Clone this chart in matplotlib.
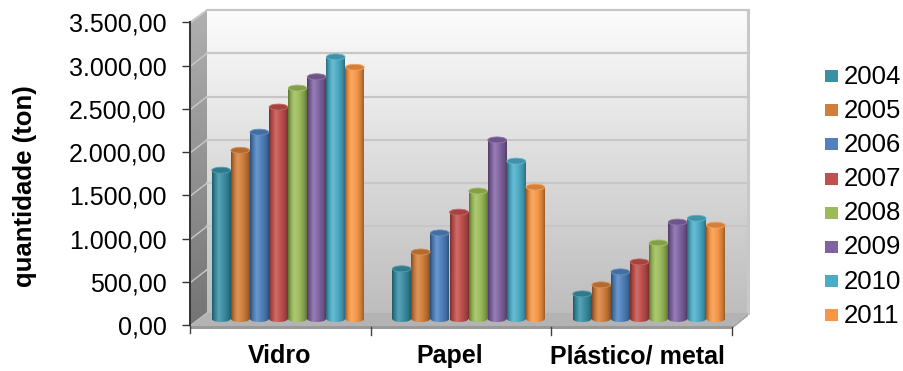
import numpy as np
import matplotlib
matplotlib.use("Agg")
import matplotlib.pyplot as plt
from matplotlib.patches import Polygon, Rectangle, Ellipse
from matplotlib.colors import to_rgb

plt.rcParams['font.family'] = ['Liberation Sans', 'DejaVu Sans']

# ---- data -------------------------------------------------------------
categories = ["Vidro", "Papel", "Plástico/ metal"]
years = ["2004", "2005", "2006", "2007", "2008", "2009", "2010", "2011"]
vidro = [1720, 1950, 2160, 2450, 2670, 2800, 3030, 2910]
papel = [580, 775, 995, 1235, 1480, 2070, 1825, 1525]
plastico_metal = [290, 395, 545, 660, 880, 1120, 1165, 1085]
year_colors = ["#3A8FA3", "#D27E3A", "#4F81BD", "#C0504D",
               "#9BBB59", "#8064A2", "#4BACC6", "#F79646"]
y_ticks = [0, 500, 1000, 1500, 2000, 2500, 3000, 3500]
y_label = "quantidade (ton)"

values = np.array([vidro, papel, plastico_metal], dtype=float)  # (category, year)

# ---- figure / helpers ---------------------------------------------------
W, H = 904, 371
fig = plt.figure(figsize=(W / 100, H / 100), dpi=100)


def fx(px):
    return px / W


def fy(py):
    return 1 - py / H


def mix(c, f):
    """f>0 lightens toward white, f<0 darkens toward black."""
    c = np.array(to_rgb(c))
    if f >= 0:
        return c + (1 - c) * f
    return c * (1 + f)


# background layer in pixel units (walls, floor, legend)
bg = fig.add_axes([0, 0, 1, 1], zorder=0)
bg.axis('off')

S_FRONT = 0.0865          # px per unit on the front axis
S_BACK = (313 - 10) / 3500.0

# back wall with vertical gradient
n = 256
tv = np.linspace(0, 1, n)
top_c, bot_c = np.array(to_rgb("#FCFCFC")), np.array(to_rgb("#BDBDBD"))
wall = (top_c[None, :] * (1 - tv[:, None]) + bot_c[None, :] * tv[:, None])[:, None, :]
bg.imshow(wall, extent=(207, 748, 313, 10), aspect='auto', interpolation='bilinear', zorder=1)

# left side wall
side_poly = Polygon([(190, 22), (207, 10), (207, 313), (190, 326)], closed=True,
                    facecolor='none', edgecolor='none')
bg.add_patch(side_poly)
st, sb = np.array(to_rgb("#B0B0B0")), np.array(to_rgb("#747474"))
side = (st[None, :] * (1 - tv[:, None]) + sb[None, :] * tv[:, None])[:, None, :]
im_side = bg.imshow(side, extent=(190, 207, 326, 10), aspect='auto',
                    interpolation='bilinear', zorder=1)
im_side.set_clip_path(side_poly)

# gridlines on the back and side walls
for v in y_ticks:
    yb = 313 - v * S_BACK
    yf = 326 - v * S_FRONT
    bg.plot([190, 207], [yf, yb], color="#C9C9C9", lw=1.0, zorder=2)
    if 0 < v:
        bg.plot([207, 748], [yb, yb], color="#C6C6C6", lw=1.6, zorder=2)

# wall borders
bg.plot([748, 748], [10, 313], color="#C8C8C8", lw=2.2, zorder=2)
bg.plot([190, 207], [22, 10], color="#C8C8C8", lw=1.0, zorder=2)

# floor
bg.add_patch(Polygon([(190, 326), (207, 313), (748, 313), (732, 326)], closed=True,
                     facecolor="#B3B3B3", edgecolor='none', zorder=3))
bg.add_patch(Polygon([(190, 326), (732, 326), (732, 329), (190, 329)], closed=True,
                     facecolor="#999999", edgecolor='none', zorder=3))
bg.add_patch(Polygon([(732, 326), (748, 313), (748, 316), (732, 329)], closed=True,
                     facecolor="#A6A6A6", edgecolor='none', zorder=3))

# category separators
for xt in (371, 551, 732):
    bg.plot([xt, xt], [327, 335], color="#404040", lw=1.0, zorder=3)
bg.plot([190, 190], [326, 333], color="#404040", lw=1.0, zorder=3)

# legend
for k, (yr, col) in enumerate(zip(years, year_colors)):
    yc = 76 + 34.2 * k
    bg.add_patch(Rectangle((825, yc - 6), 13, 12, facecolor=col, edgecolor='none', zorder=3))
    bg.text(844, yc + 0.5, yr, fontsize=18.5, va='center', ha='left', color='black', zorder=3)

# axis label and category labels
fig.text(fx(25), fy(186), y_label, rotation=90, fontsize=18.5, fontweight='bold',
         ha='center', va='center')
for label, xc in zip(categories, (280, 450, 637)):
    fig.text(fx(xc), fy(356), label, fontsize=18, fontweight='bold', ha='center', va='center')

bg.set_xlim(0, W)
bg.set_ylim(H, 0)

# ---- cylinders ------------------------------------------------------------
ax = fig.add_axes([fx(190), fy(325), fx(560), 315 / H], zorder=2)
ax.patch.set_alpha(0)
ax.axis('off')

GROUP_PX, BAR_PX, FIRST_PX = 180.5, 19.1, 288.0
bar_w = BAR_PX / GROUP_PX
ell_h = 6.0 / S_FRONT

xk = [0.0, 0.12, 0.35, 0.62, 0.88, 1.0]
fk = [-0.40, -0.14, 0.18, 0.0, -0.20, -0.38]
tt = np.linspace(0, 1, 64)
prof = np.interp(tt, xk, fk)

x_groups = np.arange(len(categories))
for j, (yr, col) in enumerate(zip(years, year_colors)):
    xs = x_groups + (j - 3.5) * bar_w
    grad = np.array([mix(col, f) for f in prof])[None, :, :]
    bars = ax.bar(xs, values[:, j], width=bar_w * 0.98, color=col, zorder=3, linewidth=0)
    for bar in bars:
        x0 = bar.get_x()
        x1 = x0 + bar.get_width()
        h = bar.get_height()
        xc = x0 + bar.get_width() / 2
        # base
        base = Ellipse((xc, 0), bar.get_width(), ell_h, facecolor='none', edgecolor='none')
        ax.add_patch(base)
        imb = ax.imshow(grad, extent=(x0, x1, -ell_h / 2, 0), aspect='auto',
                        interpolation='bilinear', zorder=3.1)
        imb.set_clip_path(base)
        # body
        imr = ax.imshow(grad, extent=(x0, x1, 0, h), aspect='auto',
                        interpolation='bilinear', zorder=3.2)
        imr.set_clip_path(bar)
        # top cap
        ax.add_patch(Ellipse((xc, h), bar.get_width(), ell_h, facecolor=mix(col, -0.15),
                             edgecolor=mix(col, 0.12), lw=0.6, zorder=3.3))

ax.set_xlim((190 - FIRST_PX) / GROUP_PX, (750 - FIRST_PX) / GROUP_PX)
ax.set_ylim(-6 / S_FRONT, 309 / S_FRONT)

# ---- front value axis -----------------------------------------------------
fa = fig.add_axes([fx(190), fy(325), 0.002, (325 - 22.3) / H], zorder=3)
fa.patch.set_alpha(0)
fa.set_ylim(0, 3500)
fa.set_yticks(y_ticks)
fa.set_yticklabels([f"{v:,.2f}".replace(",", "X").replace(".", ",").replace("X", ".")
                    for v in y_ticks])
fa.set_xticks([])
for sp in ("top", "right", "bottom"):
    fa.spines[sp].set_visible(False)
fa.spines['left'].set_color('#333333')
fa.spines['left'].set_linewidth(1.4)
fa.tick_params(axis='y', length=6, width=1, color='#333333', pad=11, labelsize=18)

fig.savefig("out.png", dpi=100)
